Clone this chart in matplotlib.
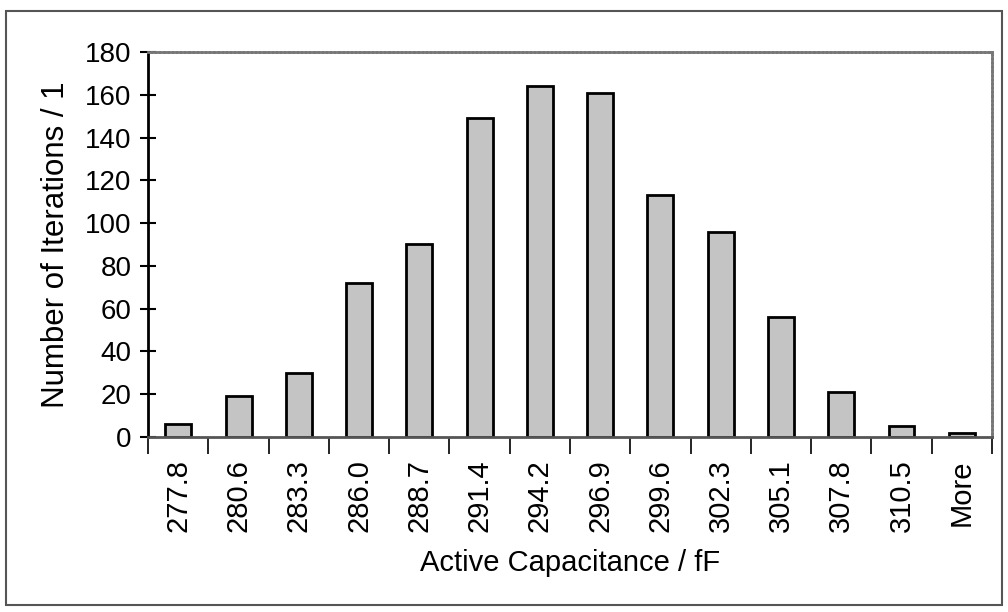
import matplotlib.pyplot as plt
from matplotlib.patches import Rectangle
import numpy as np

plt.rcParams['font.family'] = ['Liberation Sans', 'DejaVu Sans']

bins = ['277.8', '280.6', '283.3', '286.0', '288.7', '291.4', '294.2',
        '296.9', '299.6', '302.3', '305.1', '307.8', '310.5', 'More']
counts = [6, 19, 30, 72, 90, 149, 164, 161, 113, 96, 56, 21, 5, 2]

fig = plt.figure(figsize=(10.08, 6.12), dpi=100)
ax = fig.add_axes([0.147, 0.286, 0.837, 0.629])

x = np.arange(len(bins))
ax.bar(x, counts, width=0.43, color='#c4c4c4', edgecolor='black', linewidth=2)

ax.set_xlim(-0.5, len(bins) - 0.5)
ax.set_ylim(0, 180)
ax.set_yticks(np.arange(0, 181, 20))
ax.set_xticks(x)
ax.set_xticklabels(bins, rotation=90)
ax.tick_params(axis='x', length=0, labelsize=21, pad=16)
ax.tick_params(axis='y', direction='inout', length=12, width=1.5, labelsize=20, pad=6)
# category separator ticks below the axis
ax.set_xticks(np.arange(-0.5, len(bins), 1), minor=True)
ax.tick_params(axis='x', which='minor', direction='out', length=12, width=1.2)

for s in ['top', 'right']:
    ax.spines[s].set_color('#777777')
    ax.spines[s].set_linewidth(2)
    ax.spines[s].set_linestyle((0, (1, 0.5)))
ax.spines['left'].set_linewidth(2)
ax.spines['bottom'].set_linewidth(2)
ax.spines['bottom'].set_color('#555555')

ax.set_xlabel('Active Capacitance / fF', fontsize=21, labelpad=12)
ax.set_ylabel('Number of Iterations / 1', fontsize=22.5, labelpad=10)

# outer chart frame
fig.patches.append(Rectangle((0.006, 0.012), 0.988, 0.97, transform=fig.transFigure,
                             fill=False, edgecolor='#555555', linewidth=1.5))

fig.savefig('out.png', dpi=100)
